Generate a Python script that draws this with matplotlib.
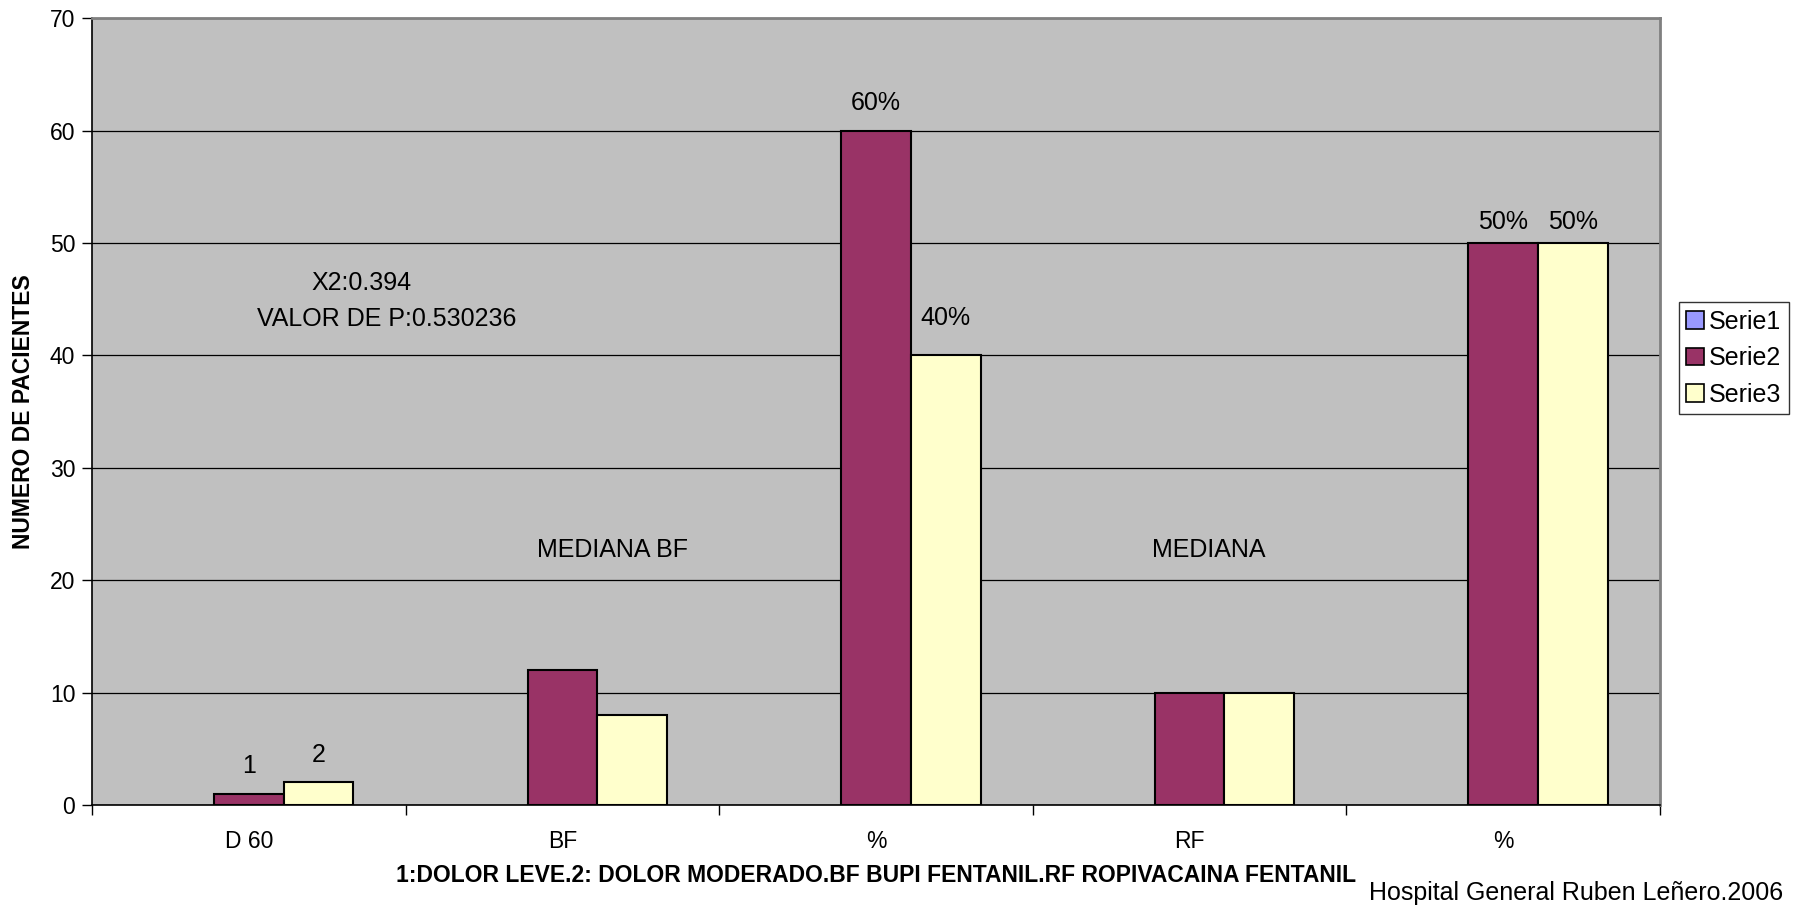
import numpy as np
import matplotlib
matplotlib.use("Agg")
import matplotlib.pyplot as plt
from matplotlib.patches import Patch

plt.rcParams['font.family'] = ['Liberation Sans', 'DejaVu Sans']

# data
categories = ["D 60", "BF", "%", "RF", "%"]
serie1 = [0, 0, 0, 0, 0]
serie2 = [1, 12, 60, 10, 50]
serie3 = [2, 8, 40, 10, 50]
labels2 = ["1", "", "60%", "", "50%"]
labels3 = ["2", "", "40%", "", "50%"]
series_names = ["Serie1", "Serie2", "Serie3"]
colors = ["#9999FF", "#993366", "#FFFFCC"]

# label offsets (points above the bar top), as placed in the original
offs2 = [20, 0, 20, 0, 15]
offs3 = [20, 0, 27, 0, 15]

fig = plt.figure(figsize=(18.11, 9.07), dpi=100)
ax = fig.add_axes([0.0508, 0.1125, 0.9166 - 0.0508, 0.980 - 0.1125])
ax.set_facecolor("#C0C0C0")

x = np.arange(len(categories))
w = 1 / 4.5   # excel gap width 150%

ax.bar(x - w, serie1, w, color=colors[0], linewidth=0, zorder=3)
b2 = ax.bar(x, serie2, w, color=colors[1], edgecolor="black", linewidth=1.5, zorder=3)
b3 = ax.bar(x + w, serie3, w, color=colors[2], edgecolor="black", linewidth=1.5, zorder=3)

for bars, labs, offs in [(b2, labels2, offs2), (b3, labels3, offs3)]:
    for rect, lab, off in zip(bars, labs, offs):
        if lab:
            ax.annotate(lab, (rect.get_x() + rect.get_width() / 2, rect.get_height()),
                        xytext=(0, off), textcoords="offset points",
                        ha="center", va="center", fontsize=18)

ax.set_xlim(-0.5, len(categories) - 0.5)
ax.set_ylim(0, 70)
ax.set_yticks(np.arange(0, 71, 10))
ax.yaxis.grid(True, color="black", linewidth=0.9)
ax.set_axisbelow(True)

ax.set_xticks(x)
ax.set_xticklabels(categories, fontsize=16.5)
ax.set_xticks(np.arange(-0.5, len(categories)), minor=True)
ax.tick_params(axis="x", which="major", length=0, pad=18)
ax.tick_params(axis="x", which="minor", length=7, width=1, color="black")
ax.tick_params(axis="y", length=7, width=1, labelsize=16.5, pad=5)

for s in ["top", "right"]:
    ax.spines[s].set_color("#808080")
    ax.spines[s].set_linewidth(2)
for s in ["left", "bottom"]:
    ax.spines[s].set_color("black")
    ax.spines[s].set_linewidth(1.2)

ax.set_ylabel("NUMERO DE PACIENTES", fontsize=16.5, fontweight="bold", labelpad=11)
ax.set_xlabel("1:DOLOR LEVE.2: DOLOR MODERADO.BF BUPI FENTANIL.RF ROPIVACAINA FENTANIL",
              fontsize=16.5, fontweight="bold", labelpad=8)

ax.text(0.36, 46.4, "X2:0.394", ha="center", va="center", fontsize=18)
ax.text(0.44, 43.2, "VALOR DE P:0.530236", ha="center", va="center", fontsize=18)
ax.text(1.16, 22.7, "MEDIANA BF", ha="center", va="center", fontsize=18)
ax.text(3.06, 22.7, "MEDIANA", ha="center", va="center", fontsize=18)

fig.text(1783 / 1811, 1 - 893 / 907, "Hospital General Ruben Leñero.2006",
         ha="right", va="center", fontsize=18)

handles = [Patch(facecolor=c, edgecolor="black", linewidth=1.2) for c in colors]
ax.legend(handles, series_names, loc="center left", bbox_to_anchor=(1.012, 0.568),
          fontsize=18, frameon=True, fancybox=False, edgecolor="black",
          handlelength=0.7, handleheight=0.7, handletextpad=0.2,
          borderpad=0.3, labelspacing=0.5, borderaxespad=0)

fig.savefig("out.png", dpi=100)
